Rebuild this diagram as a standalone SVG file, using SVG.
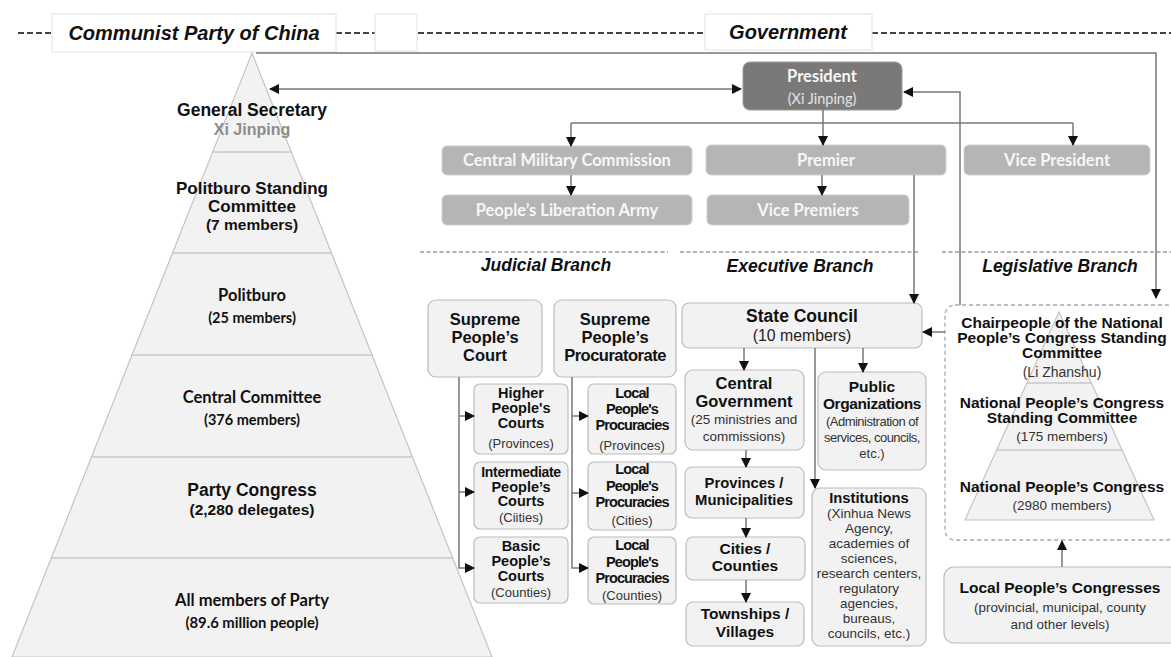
<svg xmlns="http://www.w3.org/2000/svg" width="1171" height="657" viewBox="0 0 1171 657">
<defs>
<marker id="ah" viewBox="0 0 10 10" refX="9" refY="5" markerWidth="10" markerHeight="10" markerUnits="userSpaceOnUse" orient="auto-start-reverse"><path d="M0,0 L10,5 L0,10 z" fill="#111"/></marker>
<style>
.hdr{fill:#fff;stroke:#e2e2e2;stroke-width:1}
.hdash{stroke:#444;stroke-width:2;stroke-dasharray:6 3;fill:none}
.bdash{stroke:#9a9a9a;stroke-width:1.5;stroke-dasharray:4 2.5;fill:none}
.ht{font-family:"Liberation Sans",Arial,sans-serif;font-style:italic;font-weight:bold;font-size:20px;fill:#111;text-anchor:middle}
.br{font-family:"Liberation Sans",Arial,sans-serif;font-style:italic;font-weight:bold;font-size:17.5px;fill:#111;text-anchor:middle}
.pyr{fill:#f2f2f2;stroke:#c4c4c4;stroke-width:1.2}
.div{stroke:#c8c8c8;stroke-width:1.5}
.box{fill:#f2f2f2;stroke:#bcbcbc;stroke-width:1.2}
.gbox{fill:#b5b5b5;stroke:#d0d0d0;stroke-width:1}
.pbox{fill:#7b7878;stroke:#9a9a9a;stroke-width:1}
.a{font-family:"Liberation Sans",Arial,sans-serif;font-weight:bold;fill:#111;text-anchor:middle}
.ar{font-family:"Liberation Sans",Arial,sans-serif;fill:#333;text-anchor:middle}
.c{font-family:Lato,"Open Sans",sans-serif;font-weight:bold;fill:#111;text-anchor:middle}
.cw{font-family:Lato,"Open Sans",sans-serif;font-weight:bold;fill:#f7f7f7;text-anchor:middle;font-size:16.5px}
.conn{stroke:#777;stroke-width:1.5;fill:none}
</style>
</defs>

<g id="header">
<line class="hdash" x1="18" y1="33" x2="52" y2="33"/>
<line class="hdash" x1="336" y1="33" x2="375" y2="33"/>
<line class="hdash" x1="418" y1="33" x2="705" y2="33"/>
<line class="hdash" x1="872" y1="33" x2="1171" y2="33"/>
<rect class="hdr" x="52" y="14" width="284" height="38"/>
<text class="ht" x="194" y="40">Communist Party of China</text>
<rect class="hdr" x="375" y="14" width="42" height="37"/>
<rect class="hdr" x="705" y="14" width="167" height="36"/>
<text class="ht" x="788" y="39">Government</text>
</g>

<g id="branches">
<line class="bdash" x1="420" y1="252" x2="668" y2="252"/>
<line class="bdash" x1="680" y1="252" x2="918" y2="252"/>
<line class="bdash" x1="942" y1="252" x2="1171" y2="252"/>
<text class="br" x="546" y="271">Judicial Branch</text>
<text class="br" x="800" y="272">Executive Branch</text>
<text class="br" x="1060" y="272">Legislative Branch</text>
</g>

<g id="party-pyramid">
<polygon class="pyr" points="252,53 492,657 12,657"/>
<line class="div" x1="212" y1="152" x2="292" y2="152"/>
<line class="div" x1="172" y1="253" x2="332" y2="253"/>
<line class="div" x1="131" y1="355" x2="373" y2="355"/>
<line class="div" x1="91" y1="457" x2="413" y2="457"/>
<line class="div" x1="51" y1="558" x2="453" y2="558"/>
<g id="general-secretary"><text class="a" x="252" y="116" font-size="17.5">General Secretary</text><text class="a" x="252" y="135" font-size="16" style="fill:#8c8c8c">Xi Jinping</text></g>
<g id="psc"><text class="a" x="252" y="194" font-size="17">Politburo Standing</text><text class="a" x="252" y="212" font-size="17">Committee</text><text class="a" x="252" y="230" font-size="15.5">(7 members)</text></g>
<g id="politburo"><text class="c" x="252" y="301" font-size="16.5">Politburo</text><text class="c" x="252" y="323" font-size="14.5">(25 members)</text></g>
<g id="central-committee"><text class="c" x="252" y="403" font-size="16.5">Central Committee</text><text class="c" x="252" y="425" font-size="14.5">(376 members)</text></g>
<g id="party-congress"><text class="a" x="252" y="496" font-size="17.5">Party Congress</text><text class="a" x="252" y="515" font-size="15.5">(2,280 delegates)</text></g>
<g id="all-members"><text class="c" x="252" y="606" font-size="16.5">All members of Party</text><text class="c" x="252" y="628" font-size="14.8">(89.6 million people)</text></g>
</g>

<g id="president"><rect class="pbox" x="743" y="62" width="159" height="48" rx="7"/><text class="cw" x="822" y="82">President</text><text x="822" y="104" font-family="Lato,'Open Sans',sans-serif" font-size="14.5" fill="#e4e4e4" text-anchor="middle">(Xi Jinping)</text></g>
<g id="cmc"><rect class="gbox" x="442" y="146" width="250" height="29" rx="5"/><text class="cw" x="567" y="166">Central Military Commission</text></g>
<g id="premier"><rect class="gbox" x="706" y="145" width="240" height="30" rx="5"/><text class="cw" x="826" y="166">Premier</text></g>
<g id="vice-president"><rect class="gbox" x="964" y="145" width="186" height="30" rx="5"/><text class="cw" x="1057" y="166">Vice President</text></g>
<g id="pla"><rect class="gbox" x="442" y="195" width="250" height="30" rx="5"/><text class="cw" x="567" y="216">People’s Liberation Army</text></g>
<g id="vice-premiers"><rect class="gbox" x="707" y="195" width="202" height="30" rx="5"/><text class="cw" x="808" y="216">Vice Premiers</text></g>

<g id="supreme-court"><rect class="box" x="428" y="300" width="114" height="77" rx="8"/><text class="a" font-size="16.5" x="485" y="325">Supreme</text><text class="a" font-size="16.5" x="485" y="343">People’s</text><text class="a" font-size="16.5" x="485" y="361">Court</text></g>
<g id="supreme-procuratorate"><rect class="box" x="554" y="300" width="122" height="77" rx="8"/><text class="a" font-size="16.5" x="615" y="325">Supreme</text><text class="a" font-size="16.5" x="615" y="343">People’s</text><text class="a" font-size="16.5" x="615" y="361" letter-spacing="-0.5">Procuratorate</text></g>

<g id="higher-courts"><rect class="box" x="474" y="384" width="94" height="70" rx="6"/><text class="a" font-size="14.5" x="521" y="398">Higher</text><text class="a" font-size="14.5" x="521" y="413">People's</text><text class="a" font-size="14.5" x="521" y="428">Courts</text><text class="ar" font-size="13" x="521" y="448">(Provinces)</text></g>
<g id="intermediate-courts"><rect class="box" x="474" y="462" width="94" height="67" rx="6"/><text class="a" font-size="14" x="521" y="477" letter-spacing="-0.3">Intermediate</text><text class="a" font-size="14.5" x="521" y="492">People’s</text><text class="a" font-size="14.5" x="521" y="506">Courts</text><text class="ar" font-size="13" x="521" y="522">(Ciities)</text></g>
<g id="basic-courts"><rect class="box" x="474" y="537" width="94" height="66" rx="6"/><text class="a" font-size="14.5" x="521" y="551">Basic</text><text class="a" font-size="14.5" x="521" y="566">People’s</text><text class="a" font-size="14.5" x="521" y="581">Courts</text><text class="ar" font-size="13" x="521" y="597">(Counties)</text></g>

<g id="procuracies-provinces"><rect class="box" x="588" y="384" width="88" height="70" rx="6"/><text class="a" font-size="14.5" x="632" y="398" letter-spacing="-0.9">Local</text><text class="a" font-size="14.5" x="632" y="414" letter-spacing="-0.9">People's</text><text class="a" font-size="14.5" x="632" y="430" letter-spacing="-0.9">Procuracies</text><text class="ar" font-size="13" x="632" y="450">(Provinces)</text></g>
<g id="procuracies-cities"><rect class="box" x="588" y="462" width="88" height="68" rx="6"/><text class="a" font-size="14.5" x="632" y="474" letter-spacing="-0.9">Local</text><text class="a" font-size="14.5" x="632" y="491" letter-spacing="-0.9">People's</text><text class="a" font-size="14.5" x="632" y="507" letter-spacing="-0.9">Procuracies</text><text class="ar" font-size="13" x="632" y="525">(Cities)</text></g>
<g id="procuracies-counties"><rect class="box" x="588" y="537" width="88" height="67" rx="6"/><text class="a" font-size="14.5" x="632" y="550" letter-spacing="-0.9">Local</text><text class="a" font-size="14.5" x="632" y="567" letter-spacing="-0.9">People's</text><text class="a" font-size="14.5" x="632" y="583" letter-spacing="-0.9">Procuracies</text><text class="ar" font-size="13" x="632" y="600">(Counties)</text></g>

<g id="state-council"><rect class="box" x="682" y="303" width="240" height="45" rx="7"/><text class="a" font-size="17.5" x="802" y="322">State Council</text><text class="ar" font-size="15.8" x="802" y="341" style="fill:#222">(10 members)</text></g>
<g id="central-government"><rect class="box" x="685" y="370" width="119" height="80" rx="8"/><text class="a" font-size="16.5" x="744" y="389">Central</text><text class="a" font-size="16.5" x="744" y="407">Government</text><text class="ar" font-size="13.5" x="744" y="424">(25 ministries and</text><text class="ar" font-size="13.5" x="744" y="441">commissions)</text></g>
<g id="public-organizations"><rect class="box" x="818" y="372" width="108" height="98" rx="8"/><text class="a" font-size="15.5" x="872" y="392">Public</text><text class="a" font-size="15.5" x="872" y="409" letter-spacing="-0.4">Organizations</text><text class="ar" font-size="13" x="872" y="426" letter-spacing="-0.5">(Administration of</text><text class="ar" font-size="13" x="872" y="442" letter-spacing="-0.5">services, councils,</text><text class="ar" font-size="13" x="872" y="458">etc.)</text></g>
<g id="provinces"><rect class="box" x="685" y="467" width="119" height="51" rx="7"/><text class="a" font-size="14.8" x="744" y="488">Provinces /</text><text class="a" font-size="14.8" x="744" y="505">Municipalities</text></g>
<g id="cities-counties"><rect class="box" x="686" y="537" width="119" height="43" rx="7"/><text class="a" font-size="15.5" x="745" y="554">Cities /</text><text class="a" font-size="15.5" x="745" y="571">Counties</text></g>
<g id="townships"><rect class="box" x="686" y="602" width="118" height="44" rx="7"/><text class="a" font-size="15.5" x="745" y="619">Townships /</text><text class="a" font-size="15.5" x="745" y="637">Villages</text></g>
<g id="institutions"><rect class="box" x="812" y="488" width="114" height="158" rx="8"/><text class="a" font-size="14.8" x="869" y="503">Institutions</text><text class="ar" font-size="13.5" x="869" y="518">(Xinhua News</text><text class="ar" font-size="13.5" x="869" y="533">Agency,</text><text class="ar" font-size="13.5" x="869" y="548">academies of</text><text class="ar" font-size="13.5" x="869" y="563">sciences,</text><text class="ar" font-size="13.5" x="869" y="578">research centers,</text><text class="ar" font-size="13.5" x="869" y="593">regulatory</text><text class="ar" font-size="13.5" x="869" y="608">agencies,</text><text class="ar" font-size="13.5" x="869" y="623">bureaus,</text><text class="ar" font-size="13.5" x="869" y="638">councils, etc.)</text></g>

<g id="legislature">
<rect x="945" y="305" width="232" height="235" rx="10" fill="none" stroke="#a8a8a8" stroke-width="1.3" stroke-dasharray="4 3"/>
<polygon class="pyr" points="1059,312 1154,520 965,520"/>
<line class="div" x1="1027" y1="383" x2="1091" y2="383"/>
<line class="div" x1="996" y1="450" x2="1122" y2="450"/>
<g id="npc-chair"><text class="a" font-size="15.5" x="1062" y="328">Chairpeople of the National</text><text class="a" font-size="15.5" x="1062" y="343">People’s Congress Standing</text><text class="a" font-size="15.5" x="1062" y="358">Committee</text><text class="ar" font-size="14" x="1062" y="377">(Li Zhanshu)</text></g>
<g id="npcsc"><text class="a" font-size="15.5" x="1062" y="408">National People’s Congress</text><text class="a" font-size="15.5" x="1062" y="423">Standing Committee</text><text class="ar" font-size="13.5" x="1062" y="441">(175 members)</text></g>
<g id="npc"><text class="a" font-size="15.5" x="1062" y="492">National People’s Congress</text><text class="ar" font-size="13.5" x="1062" y="510">(2980 members)</text></g>
</g>
<g id="local-congresses"><rect class="box" x="944" y="567" width="235" height="76" rx="10"/><text class="a" font-size="15.5" x="1060" y="593">Local People’s Congresses</text><text class="ar" font-size="13.4" x="1060" y="612">(provincial, municipal, county</text><text class="ar" font-size="13.4" x="1060" y="629">and other levels)</text></g>

<g id="connectors">
<line class="conn" x1="270" y1="89" x2="741" y2="89" marker-start="url(#ah)" marker-end="url(#ah)"/>
<polyline class="conn" points="256,53 1156,53 1156,298" marker-end="url(#ah)"/>
<polyline class="conn" points="960,305 960,92 904,92" marker-end="url(#ah)"/>
<polyline class="conn" points="823,110 823,145" marker-end="url(#ah)"/>
<polyline class="conn" points="571,123 1073,123"/>
<polyline class="conn" points="571,123 571,146" marker-end="url(#ah)"/>
<polyline class="conn" points="1073,123 1073,145" marker-end="url(#ah)"/>
<polyline class="conn" points="571,175 571,195" marker-end="url(#ah)"/>
<polyline class="conn" points="822,175 822,195" marker-end="url(#ah)"/>
<polyline class="conn" points="914,175 914,303" marker-end="url(#ah)"/>
<polyline class="conn" points="945,332 923,332" marker-end="url(#ah)"/>
<polyline class="conn" points="459,377 459,568 474,568" marker-end="url(#ah)"/>
<polyline class="conn" points="459,416 474,416" marker-end="url(#ah)"/>
<polyline class="conn" points="459,492 474,492" marker-end="url(#ah)"/>
<polyline class="conn" points="572,377 572,568 588,568" marker-end="url(#ah)"/>
<polyline class="conn" points="572,416 588,416" marker-end="url(#ah)"/>
<polyline class="conn" points="572,493 588,493" marker-end="url(#ah)"/>
<polyline class="conn" points="744,348 744,370" marker-end="url(#ah)"/>
<polyline class="conn" points="863,348 863,372" marker-end="url(#ah)"/>
<polyline class="conn" points="815,348 815,488" marker-end="url(#ah)"/>
<polyline class="conn" points="746,450 746,467" marker-end="url(#ah)"/>
<polyline class="conn" points="746,518 746,537" marker-end="url(#ah)"/>
<polyline class="conn" points="746,580 746,602" marker-end="url(#ah)"/>
<polyline class="conn" points="1062,567 1062,541" marker-end="url(#ah)"/>
</g>
</svg>
